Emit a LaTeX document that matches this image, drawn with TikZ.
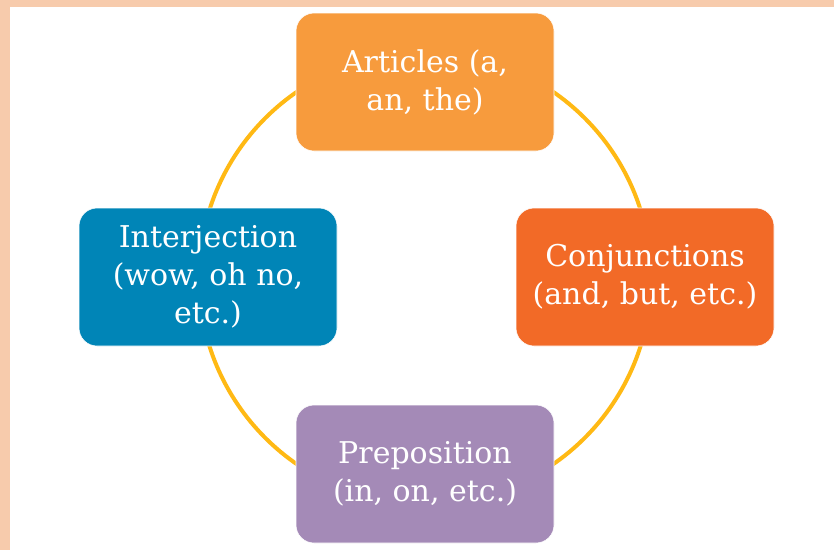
\documentclass[tikz,border=0pt]{standalone}
\usepackage{fontspec}
\setmainfont{DejaVu Serif}
\definecolor{peach}{HTML}{F7CBAC}
\definecolor{ringcol}{HTML}{FFB914}
\definecolor{artcol}{HTML}{F79B3D}
\definecolor{concol}{HTML}{F26A27}
\definecolor{precol}{HTML}{A48AB7}
\definecolor{intcol}{HTML}{0085B7}
\tikzset{
  boxnode/.style={rounded corners=18pt, minimum width=258pt, minimum height=138pt,
    text=white, align=center, draw=white, line width=0.6pt,
    font=\fontsize{30}{38}\selectfont, inner sep=0pt},
  ring/.style={draw=ringcol, line width=4pt}
}
\begin{document}
\begin{tikzpicture}[x=1pt,y=-1pt]
\useasboundingbox (0,0) rectangle (834,550);
\fill[white] (0,0) rectangle (834,550);
\fill[peach] (0,0) rectangle (834,7);
\fill[peach] (0,0) rectangle (10,550);
\coordinate (c) at (425,278);
\draw[ring] (c) circle[radius=226];
\node[boxnode, fill=artcol] (art) at (425,82) {Articles (a,\\an, the)};
\node[boxnode, fill=concol] (con) at (645,277) {Conjunctions\\(and, but, etc.)};
\node[boxnode, fill=precol] (pre) at (425,474) {Preposition\\(in, on, etc.)};
\node[boxnode, fill=intcol] (int) at (208,277) {Interjection\\(wow, oh no,\\etc.)};
\end{tikzpicture}
\end{document}
